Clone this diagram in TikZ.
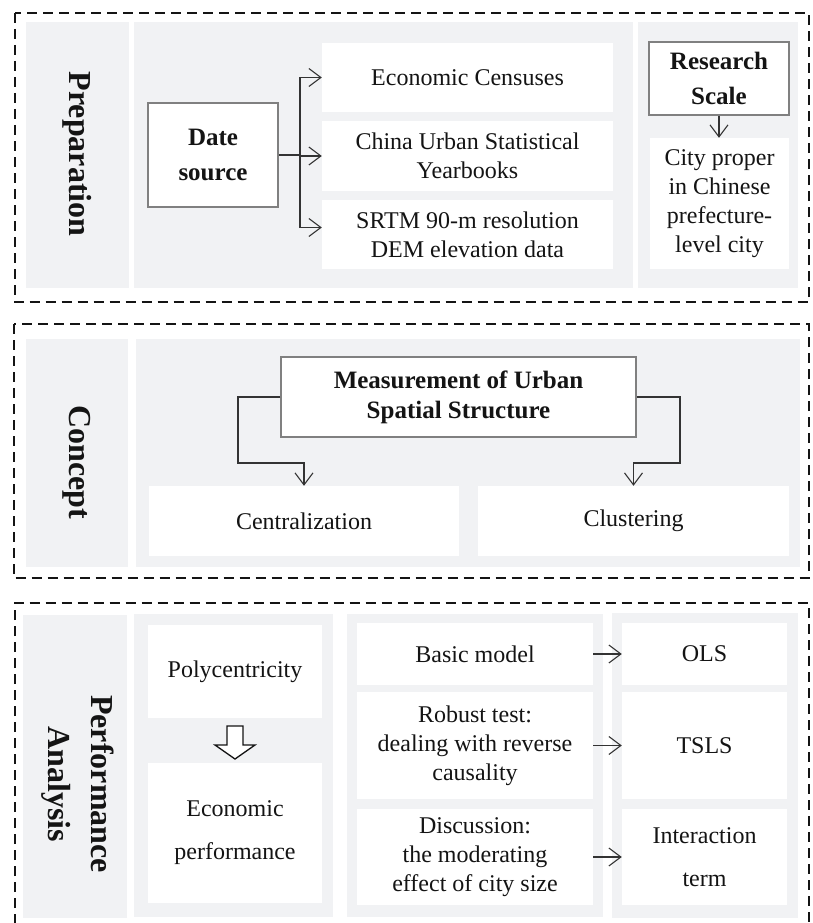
\documentclass[tikz,border=0pt]{standalone}
\usepackage{fontspec}
\setmainfont{Liberation Serif}
\usetikzlibrary{arrows.meta}
\definecolor{panel}{HTML}{F1F2F4}
\definecolor{ink}{HTML}{141414}
\definecolor{edge}{HTML}{808080}
\definecolor{linec}{HTML}{333333}
\begin{document}
\begin{tikzpicture}[x=1pt,y=-1pt,
  font=\fontsize{24}{29}\selectfont, text=ink,
  panelbox/.style={fill=panel, draw=none, inner sep=0pt},
  whitebox/.style={fill=white, draw=none, align=center, inner sep=0pt},
  framebox/.style={fill=white, draw=edge, line width=1.5pt, align=center, inner sep=0pt,
    font=\fontsize{25}{35}\selectfont\bfseries},
  seclabel/.style={rotate=-90, align=center, inner sep=0pt,
    font=\fontsize{32}{43}\selectfont\bfseries},
  dashbox/.style={draw=ink, line width=2pt, dash pattern=on 10pt off 6pt},
  conn/.style={draw=linec, line width=1.1pt},
  arr/.style={conn, -{Straight Barb[length=12pt,width=18pt,line width=1.1pt]}}
]
\useasboundingbox (0,0) rectangle (812,923);
\clip (0,0) rectangle (812,923);

% ---------------- Preparation ----------------
\draw[dashbox] (14.5,13) rectangle (808.5,302);
\node[panelbox, minimum width=103pt, minimum height=266pt] (lab1) at (77.5,155) {};
\node[panelbox, minimum width=499pt, minimum height=266pt] (main1) at (383.5,155) {};
\node[panelbox, minimum width=160pt, minimum height=266pt] (right1) at (718,155) {};
\node[seclabel] (tprep) at (77,154) {Preparation};

\node[framebox, minimum width=130pt, minimum height=104pt] (date) at (213,155) {Date\\source};
\node[whitebox, minimum width=291pt, minimum height=69pt] (eco) at (467.5,77.5) {Economic Censuses};
\node[whitebox, minimum width=291pt, minimum height=70pt] (china) at (467.5,156) {China Urban Statistical\\Yearbooks};
\node[whitebox, minimum width=291pt, minimum height=69pt] (srtm) at (467.5,234.5) {SRTM 90-m resolution\\DEM elevation data};
\coordinate (jn) at (300,155);
\coordinate (srtmin) at ([yshift=7pt]srtm.west);
\draw[conn] (date.east) -- (jn);
\draw[conn] (jn |- eco.west) -- (jn |- srtmin);
\draw[arr] (jn |- eco.west) -- (eco.west);
\draw[arr] (jn |- china.west) -- (china.west);
\draw[arr] (jn |- srtmin) -- (srtmin);

\node[framebox, minimum width=140pt, minimum height=73pt] (rs) at (719,78.5) {Research\\Scale};
\node[whitebox, minimum width=139pt, minimum height=131pt] (city) at (719.5,203.5)
  {City proper\\in Chinese\\prefecture-\\level city};
\draw[arr] (rs.south) -- (rs.south |- city.north);

% ---------------- Concept ----------------
\draw[dashbox] (13.5,324) rectangle (808.5,578);
\node[panelbox, minimum width=102pt, minimum height=228pt] (lab2) at (77,453) {};
\node[panelbox, minimum width=664pt, minimum height=228pt] (main2) at (468,453) {};
\node[seclabel] (tconc) at (77,462) {Concept};

\node[framebox, minimum width=355pt, minimum height=80pt, font=\fontsize{25}{30}\selectfont\bfseries]
  (meas) at (458.5,397) {Measurement of Urban\\Spatial Structure};
\node[whitebox, minimum width=310pt, minimum height=70pt] (cent) at (304,521) {Centralization};
\node[whitebox, minimum width=311pt, minimum height=70pt] (clus) at (633.5,521) {Clustering};
\draw[arr] (meas.west) -- (238,397) -- (238,463) -- (cent.north |- 0,463) -- (cent.north);
\draw[arr] (meas.east) -- (680,397) -- (680,463) -- (clus.north |- 0,463) -- (clus.north);

% ---------------- Performance Analysis ----------------
\draw[dashbox] (14.5,940) -- (14.5,603) -- (808.5,603) -- (808.5,940);
\node[panelbox, minimum width=104pt, minimum height=303pt] (lab3) at (75,766.5) {};
\node[panelbox, minimum width=199pt, minimum height=303pt] (p2) at (233.5,765.5) {};
\node[panelbox, minimum width=256pt, minimum height=303pt] (p3) at (475,765.5) {};
\node[panelbox, minimum width=186pt, minimum height=305pt] (p4) at (705,765.5) {};
\node[seclabel] (tperf) at (78,784) {Performance\\Analysis};

\node[whitebox, minimum width=174pt, minimum height=93pt, text depth=4pt] (poly) at (235,671.5) {Polycentricity};
\node[whitebox, minimum width=174pt, minimum height=140pt] (econ) at (235,833) {Economic\\[14pt]performance};
\draw[fill=white, draw=ink, line width=1.3pt]
  (227,726) -- (243,726) -- (243,745) -- (255,745) -- (235,759) -- (215,745) -- (227,745) -- cycle;

\node[whitebox, minimum width=236pt, minimum height=62pt] (basic) at (475,654) {Basic model};
\node[whitebox, minimum width=236pt, minimum height=107pt] (robust) at (475,745.5)
  {Robust test:\\dealing with reverse\\causality};
\node[whitebox, minimum width=236pt, minimum height=96pt] (disc) at (475,857)
  {Discussion:\\the moderating\\effect of city size};
\node[whitebox, minimum width=165pt, minimum height=62pt] (ols) at (704.5,654) {OLS};
\node[whitebox, minimum width=165pt, minimum height=107pt] (tsls) at (704.5,745.5) {TSLS};
\node[whitebox, minimum width=165pt, minimum height=96pt] (inter) at (704.5,857) {Interaction\\[14pt]term};
\draw[arr] (basic.east) -- (ols.west);
\draw[arr] (robust.east) -- (tsls.west);
\draw[arr] (disc.east) -- (inter.west);
\end{tikzpicture}
\end{document}
